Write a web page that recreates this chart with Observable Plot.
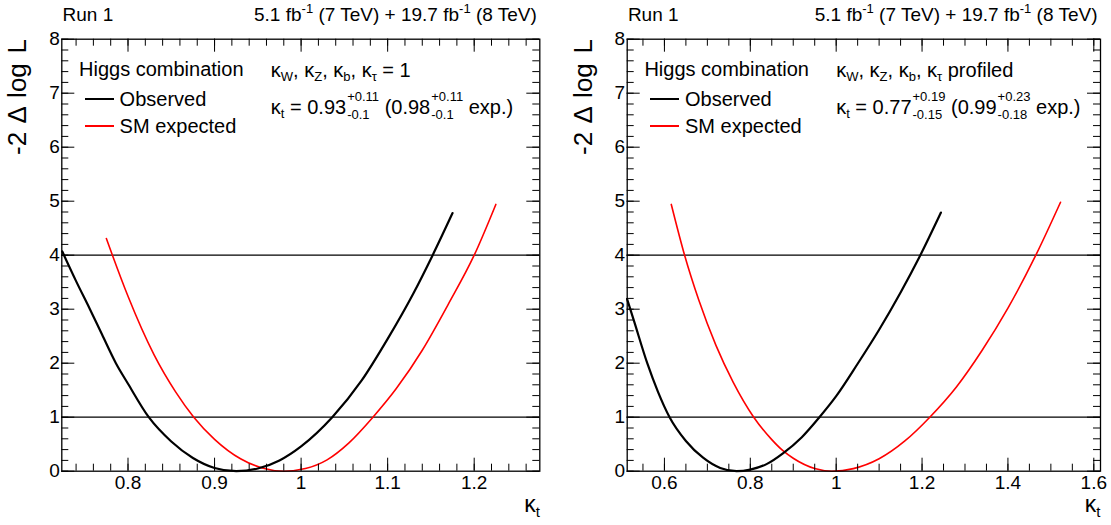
<!DOCTYPE html>
<html><head><meta charset="utf-8">
<script src="https://cdn.jsdelivr.net/npm/d3@7"></script>
<script src="https://cdn.jsdelivr.net/npm/@observablehq/plot@0.6"></script>
<style>
body{margin:0;background:#fff;font-family:"Liberation Sans",Arial,Helvetica,sans-serif;}
#wrap{position:relative;width:1111px;height:525px;overflow:hidden;background:#fff}
.panel{position:absolute;top:0;height:525px}
.panel svg{position:absolute;left:0;top:0}
.t{position:absolute;white-space:nowrap;line-height:1;color:#000}
.sb{font-size:13px;position:relative;top:4px}
.sp{font-size:13px;position:relative;top:-8px}
.stk{display:inline-block;vertical-align:baseline;line-height:0;font-size:13px;margin-left:1px}
.stk span{display:block;line-height:0;position:relative}
.stk .u{top:-12.6px}
.stk .d{top:4.5px}
.sw{position:absolute;width:29px}
.ytitle{position:absolute;font-size:26px;line-height:1;white-space:nowrap;width:140px;text-align:right;transform-origin:0 0;transform:rotate(-90deg);word-spacing:2.5px}
.xt{position:absolute;white-space:nowrap;line-height:0.5;font-size:23px}
</style>
</head><body>
<div id="wrap"></div>
<script>
// ---- data ----
const yTicks = [0,1,2,3,4,5,6,7,8];
const yTickLabels = ["0","1","2","3","4","5","6","7","8"];
const refLines = [1,4];

// left panel: kappa_W, kappa_Z, kappa_b, kappa_tau = 1
const leftXTicks = [0.8,0.9,1.0,1.1,1.2];
const leftXTickLabels = ["0.8","0.9","1","1.1","1.2"];
const leftObsK = [0.724,0.74,0.756,0.77,0.786,0.80,0.824,0.85,0.875,0.90,0.925,0.95,0.975,1.0,1.036,1.07,1.10,1.13,1.152,1.175];
const leftObsY = [4.07,3.52,3.0,2.53,2.0,1.62,1.0,0.55,0.245,0.06,0,0.05,0.2,0.46,1.0,1.68,2.45,3.3,4.0,4.78];
const leftExpK = [0.775,0.782,0.80,0.83,0.855,0.876,0.90,0.93,0.955,0.98,1.005,1.03,1.055,1.083,1.11,1.14,1.17,1.20,1.225];
const leftExpY = [4.31,4.0,3.24,2.16,1.47,1.0,0.59,0.23,0.06,0,0.05,0.21,0.52,1.0,1.53,2.24,3.09,4.0,4.94];

// right panel: kappa_W, kappa_Z, kappa_b, kappa_tau profiled
const rightXTicks = [0.6,0.8,1.0,1.2,1.4,1.6];
const rightXTickLabels = ["0.6","0.8","1","1.2","1.4","1.6"];
const rightObsK = [0.513,0.53,0.56,0.585,0.612,0.65,0.69,0.73,0.768,0.80,0.84,0.876,0.92,0.961,1.00,1.05,1.10,1.15,1.196,1.244];
const rightObsY = [3.19,2.76,2.0,1.47,1.0,0.56,0.25,0.06,0,0.03,0.14,0.33,0.63,1.0,1.39,1.99,2.62,3.31,4.0,4.79];
const rightExpK = [0.616,0.647,0.68,0.72,0.76,0.808,0.85,0.876,0.90,0.95,0.99,1.04,1.10,1.16,1.218,1.28,1.34,1.40,1.465,1.5225];
const rightExpY = [4.94,4.0,3.17,2.33,1.65,1.0,0.585,0.38,0.24,0.05,0,0.048,0.23,0.56,1.0,1.56,2.24,3.02,4.0,4.98];

const headerLeft = "Run 1";
const headerRight = '5.1 fb<span class="sp">-1</span> (7 TeV) + 19.7 fb<span class="sp">-1</span> (8 TeV)';
const legendTitle = "Higgs combination";
const legendObs = "Observed";
const legendExp = "SM expected";
const yTitle = "-2 Δ log L";
const leftNote1 = 'κ<span class="sb">W</span>, κ<span class="sb">Z</span>, κ<span class="sb">b</span>, κ<span class="sb">τ</span> = 1';
const leftNote2 = 'κ<span class="sb">t</span> = 0.93<span class="stk"><span class="u">+0.11</span><span class="d">-0.1</span></span> (0.98<span class="stk"><span class="u">+0.11</span><span class="d">-0.1</span></span> exp.)';
const rightNote1 = 'κ<span class="sb">W</span>, κ<span class="sb">Z</span>, κ<span class="sb">b</span>, κ<span class="sb">τ</span> profiled';
const rightNote2 = 'κ<span class="sb">t</span> = 0.77<span class="stk"><span class="u">+0.19</span><span class="d">-0.15</span></span> (0.99<span class="stk"><span class="u">+0.23</span><span class="d">-0.18</span></span> exp.)';

function minorTicks(lo, hi, step){
  const out=[]; const n0=Math.ceil(lo/step-1e-9), n1=Math.floor(hi/step+1e-9);
  for(let n=n0;n<=n1;n++) out.push(+(n*step).toFixed(6));
  return out;
}

function panel(cfg){
  const H=525, mt=38.7, mb=54.3;
  const W=cfg.width, fw=W-cfg.ml-cfg.mr, fh=H-mt-mb;
  const obs=cfg.obsK.map((k,i)=>({k,y:cfg.obsY[i]}));
  const exp=cfg.expK.map((k,i)=>({k,y:cfg.expY[i]}));
  const xMinor=minorTicks(cfg.domain[0],cfg.domain[1],cfg.minorStep);
  const yMinor=minorTicks(0,8,0.2);
  const plot=Plot.plot({
    width:W,height:H,marginLeft:cfg.ml,marginRight:cfg.mr,marginTop:mt,marginBottom:mb,
    x:{domain:cfg.domain,ticks:cfg.xTicks,tickSize:0,tickPadding:4,label:null,
       tickFormat:d=>cfg.xLabels[cfg.xTicks.findIndex(v=>Math.abs(v-d)<1e-9)]},
    y:{domain:[0,8],ticks:yTicks,tickSize:0,tickPadding:2,label:null,
       tickFormat:d=>yTickLabels[yTicks.indexOf(d)]},
    style:{fontFamily:'"Liberation Sans",Arial,sans-serif',fontSize:"19px",background:"white",color:"black",overflow:"visible"},
    marks:[
      Plot.ruleY(refLines,{stroke:"black",strokeWidth:1.2}),
      Plot.line(exp,{x:"k",y:"y",stroke:"#ff0000",strokeWidth:1.6,curve:"monotone-x"}),
      Plot.line(obs,{x:"k",y:"y",stroke:"black",strokeWidth:2.2,curve:"monotone-x"}),
      Plot.tickX(cfg.xTicks,{x:d=>d,insetTop:fh-13,stroke:"black"}),
      Plot.tickX(cfg.xTicks,{x:d=>d,insetBottom:fh-13,stroke:"black"}),
      Plot.tickX(xMinor,{x:d=>d,insetTop:fh-7,stroke:"black"}),
      Plot.tickX(xMinor,{x:d=>d,insetBottom:fh-7,stroke:"black"}),
      Plot.tickY(yTicks,{y:d=>d,insetRight:fw-13,stroke:"black"}),
      Plot.tickY(yTicks,{y:d=>d,insetLeft:fw-13,stroke:"black"}),
      Plot.tickY(yMinor,{y:d=>d,insetRight:fw-7,stroke:"black"}),
      Plot.tickY(yMinor,{y:d=>d,insetLeft:fw-7,stroke:"black"}),
      Plot.frame({stroke:"black",strokeWidth:1.3})
    ]
  });
  const div=document.createElement("div");
  div.className="panel"; div.style.left=cfg.left+"px"; div.style.width=W+"px";
  div.appendChild(plot);
  const fl=cfg.ml, fr=cfg.ml+fw;
  const add=(html,css,cls="t")=>{const e=document.createElement("div");e.className=cls;e.innerHTML=html;Object.assign(e.style,css);div.appendChild(e);return e;};
  add(headerLeft,{left:(fl+1.2)+"px",top:"4.7px",fontSize:"19px"});
  add(headerRight,{right:(W-fr+2.5)+"px",top:"4.7px",fontSize:"19px"});
  add(legendTitle,{left:(fl+17.7)+"px",top:"58.6px",fontSize:"20px"});
  add("",{left:(fl+23.3)+"px",top:"97.9px",height:"2.2px",background:"#000"},"sw");
  add(legendObs,{left:(fl+58.3)+"px",top:"89.3px",fontSize:"20px"});
  add("",{left:(fl+23.3)+"px",top:"125.2px",height:"1.6px",background:"#ff0000"},"sw");
  add(legendExp,{left:(fl+58.3)+"px",top:"116px",fontSize:"20px"});
  add(cfg.note1,{left:(fl+209.5)+"px",top:"59.5px",fontSize:"20px"});
  add(cfg.note2,{left:(fl+209.5)+"px",top:"97px",fontSize:"20px"});
  add(yTitle,{left:(fl-57)+"px",top:(38.5+140)+"px"},"ytitle");
  add('κ<span class="sb" style="font-size:15px;top:5px">t</span>',{right:(W-fr-0.5)+"px",top:(512-13.4)+"px"},"xt");
  document.getElementById("wrap").appendChild(div);
}

panel({left:0,width:555,ml:61.3,mr:15.7,domain:[0.7235,1.2758],minorStep:0.02,
  xTicks:leftXTicks,xLabels:leftXTickLabels,obsK:leftObsK,obsY:leftObsY,expK:leftExpK,expY:leftExpY,
  note1:leftNote1,note2:leftNote2});
panel({left:555,width:556,ml:71.7,mr:11,domain:[0.5133,1.6156],minorStep:0.05,
  xTicks:rightXTicks,xLabels:rightXTickLabels,obsK:rightObsK,obsY:rightObsY,expK:rightExpK,expY:rightExpY,
  note1:rightNote1,note2:rightNote2});
</script>
</body></html>
